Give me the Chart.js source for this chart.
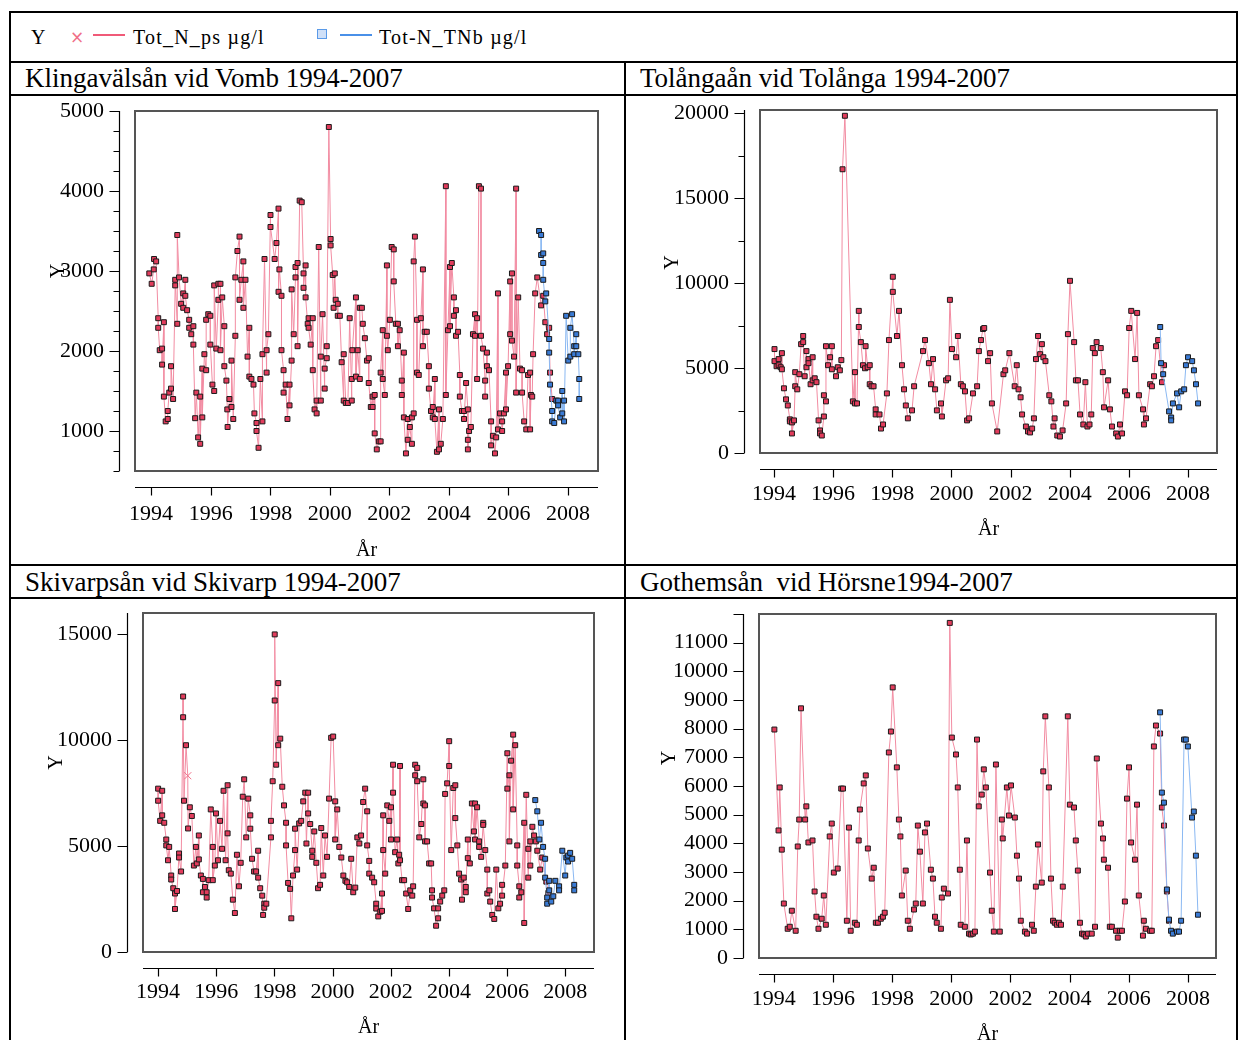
<!DOCTYPE html>
<html>
<head>
<meta charset="utf-8">
<script src="https://cdn.jsdelivr.net/npm/chart.js@4.4.1/dist/chart.umd.min.js"></script>
<style>
	body { margin: 0; background: #fff; }
	#page { position: relative; width: 1238px; height: 1040px; overflow: hidden; font-family: 'Liberation Serif', 'Times New Roman', serif; color: #000; }
	.rule { position: absolute; background: #000; }
	.title { position: absolute; font-size: 27px; line-height: 33px; white-space: pre; }
	.leg { position: absolute; top: 25px; font-size: 20px; line-height: 24px; white-space: pre; letter-spacing: 1.2px; }
	canvas { position: absolute; }
</style>
</head>
<body>
<div id="page">
	<div class="rule" style="left:9px;top:11px;width:1229px;height:2px"></div>
	<div class="rule" style="left:9px;top:61px;width:1229px;height:2px"></div>
	<div class="rule" style="left:9px;top:94px;width:1229px;height:2px"></div>
	<div class="rule" style="left:9px;top:564px;width:1229px;height:2px"></div>
	<div class="rule" style="left:9px;top:597px;width:1229px;height:2px"></div>
	<div class="rule" style="left:9px;top:11px;width:2px;height:1029px"></div>
	<div class="rule" style="left:1236px;top:11px;width:2px;height:1029px"></div>
	<div class="rule" style="left:624px;top:62px;width:2px;height:978px"></div>

	<div class="leg" style="left:31px">Y</div>
	<div class="leg" style="left:70px;color:#f07088;font-family:'DejaVu Sans',sans-serif;font-size:17px">×</div>
	<div class="rule" style="left:93px;top:34px;width:32px;height:2px;background:#f05a78"></div>
	<div class="leg" style="left:133px">Tot_N_ps µg/l</div>
	<div class="rule" style="left:317px;top:29px;width:8px;height:8px;background:#cfe0f8;border:1.5px solid #5a9ae8"></div>
	<div class="rule" style="left:340px;top:34px;width:32px;height:2px;background:#4a90e8"></div>
	<div class="leg" style="left:379px">Tot-N_TNb µg/l</div>

	<div class="title" style="left:25px;top:62px">Klingavälsån vid Vomb 1994-2007</div>
	<div class="title" style="left:640px;top:62px">Tolångaån vid Tolånga 1994-2007</div>
	<div class="title" style="left:25px;top:566px">Skivarpsån vid Skivarp 1994-2007</div>
	<div class="title" style="left:640px;top:566px">Gothemsån  vid Hörsne1994-2007</div>

	<canvas id="vomb" width="612" height="467" style="left:12px;top:97px"></canvas>
	<canvas id="tolanga" width="609" height="467" style="left:627px;top:97px"></canvas>
	<canvas id="skivarp" width="612" height="440" style="left:12px;top:600px"></canvas>
	<canvas id="gothem" width="609" height="440" style="left:627px;top:600px"></canvas>
</div>

<script>
// [year, µg/l] pairs

const vombPs = [
	[1993.94, 2970], [1994.02, 2840], [1994.09, 3020], [1994.10, 3150], [1994.17, 3120], [1994.24, 2410], [1994.24, 2290],
	[1994.29, 2010], [1994.37, 2030], [1994.37, 1830], [1994.43, 2360], [1994.43, 1430], [1994.49, 1120], [1994.56, 1150],
	[1994.56, 1250], [1994.61, 1480], [1994.67, 1530], [1994.67, 1810], [1994.74, 1400], [1994.81, 2820], [1994.81, 2890],
	[1994.88, 2340], [1994.88, 3450], [1994.94, 2920], [1995.01, 2590], [1995.08, 2720], [1995.08, 2540], [1995.15, 2890],
	[1995.15, 2690], [1995.21, 2510], [1995.28, 2390], [1995.28, 2290], [1995.35, 2210], [1995.42, 2310], [1995.42, 2080],
	[1995.48, 1160], [1995.52, 1480], [1995.58, 920], [1995.65, 1430], [1995.65, 840], [1995.72, 1780], [1995.72, 1170],
	[1995.79, 1960], [1995.85, 1760], [1995.85, 2390], [1995.92, 2460], [1995.99, 2440], [1995.99, 2080], [1996.06, 1580],
	[1996.12, 1500], [1996.12, 2820], [1996.19, 2030], [1996.26, 2640], [1996.26, 2840], [1996.33, 2840], [1996.33, 2010],
	[1996.39, 2670], [1996.46, 2310], [1996.46, 1810], [1996.53, 1630], [1996.56, 1270], [1996.57, 1050], [1996.63, 1400],
	[1996.70, 1300], [1996.70, 1880], [1996.76, 1150], [1996.83, 2190], [1996.83, 2920], [1996.90, 3250], [1996.97, 3430],
	[1996.97, 2640], [1997.03, 2890], [1997.10, 3120], [1997.10, 2540], [1997.17, 2890], [1997.24, 1930], [1997.30, 2290],
	[1997.30, 1680], [1997.37, 1650], [1997.44, 1580], [1997.47, 1220], [1997.54, 1100], [1997.54, 1000], [1997.61, 790],
	[1997.67, 1650], [1997.74, 1120], [1997.74, 1960], [1997.81, 3150], [1997.88, 1730], [1997.88, 2010], [1997.94, 2210],
	[1998.01, 3700], [1998.01, 3550], [1998.15, 3150], [1998.21, 3350], [1998.28, 3780], [1998.28, 2740], [1998.31, 3020],
	[1998.38, 2690], [1998.38, 2010], [1998.45, 1760], [1998.45, 1480], [1998.52, 1580], [1998.58, 1150], [1998.65, 1580],
	[1998.65, 1320], [1998.72, 1880], [1998.72, 2770], [1998.79, 2210], [1998.85, 2920], [1998.85, 3050], [1998.92, 3100],
	[1998.92, 2060], [1998.99, 3880], [1999.06, 3860], [1999.12, 2970], [1999.12, 2790], [1999.19, 3070], [1999.19, 2670],
	[1999.26, 2340], [1999.29, 2410], [1999.29, 2290], [1999.36, 2080], [1999.43, 2410], [1999.43, 1760], [1999.49, 1270],
	[1999.56, 1380], [1999.56, 1220], [1999.63, 3300], [1999.70, 1380], [1999.70, 1930], [1999.76, 2460], [1999.83, 1530],
	[1999.83, 1780], [1999.90, 1910], [1999.90, 2060], [1999.97, 4800], [2000.03, 3400], [2000.03, 3320], [2000.10, 2950],
	[2000.13, 2540], [2000.17, 2970], [2000.20, 2640], [2000.27, 2590], [2000.27, 2440], [2000.34, 2440], [2000.40, 1860],
	[2000.47, 1380], [2000.47, 1960], [2000.54, 1350], [2000.61, 1350], [2000.67, 2410], [2000.74, 1380], [2000.74, 1650],
	[2000.76, 2010], [2000.88, 2670], [2000.88, 1680], [2000.94, 2010], [2001.01, 1650], [2001.01, 2540], [2001.08, 2540],
	[2001.11, 2340], [2001.18, 2160], [2001.25, 1880], [2001.31, 1910], [2001.31, 1600], [2001.38, 1300], [2001.44, 1430],
	[2001.44, 1300], [2001.51, 1450], [2001.51, 970], [2001.58, 770], [2001.65, 870], [2001.71, 870], [2001.71, 1730],
	[2001.78, 2260], [2001.78, 1650], [2001.85, 1450], [2001.92, 3070], [2001.92, 2190], [2001.95, 2010], [2002.02, 2390],
	[2002.08, 3300], [2002.15, 3270], [2002.15, 2870], [2002.22, 2340], [2002.29, 2340], [2002.29, 2060], [2002.35, 2260],
	[2002.42, 1630], [2002.42, 1450], [2002.49, 1980], [2002.49, 1170], [2002.56, 720], [2002.62, 1150], [2002.62, 890],
	[2002.69, 1050], [2002.76, 840], [2002.76, 1170], [2002.82, 1220], [2002.82, 3120], [2002.86, 3430], [2002.93, 2390],
	[2002.93, 1730], [2002.99, 1700], [2003.06, 2410], [2003.13, 3020], [2003.13, 2060], [2003.19, 2240], [2003.26, 2240],
	[2003.33, 1810], [2003.33, 1530], [2003.40, 1250], [2003.46, 1300], [2003.46, 1170], [2003.53, 1650], [2003.53, 1150],
	[2003.60, 740], [2003.67, 1270], [2003.67, 770], [2003.73, 840], [2003.80, 1150], [2003.90, 4060], [2003.90, 1450],
	[2003.97, 2260], [2004.04, 3050], [2004.04, 2310], [2004.10, 3100], [2004.17, 2670], [2004.17, 2440], [2004.24, 2510],
	[2004.24, 2190], [2004.31, 2240], [2004.37, 1700], [2004.37, 1430], [2004.44, 1250], [2004.51, 1250], [2004.51, 1150],
	[2004.58, 1600], [2004.64, 1270], [2004.64, 890], [2004.64, 770], [2004.68, 1000], [2004.74, 1050], [2004.81, 2210],
	[2004.88, 2460], [2004.88, 2190], [2004.95, 2410], [2004.95, 1650], [2005.01, 4060], [2005.08, 4030], [2005.08, 2190],
	[2005.15, 2030], [2005.22, 1630], [2005.22, 1430], [2005.28, 1980], [2005.28, 1810], [2005.35, 1760], [2005.42, 1120],
	[2005.42, 820], [2005.48, 940], [2005.55, 720], [2005.59, 920], [2005.65, 2720], [2005.65, 1020], [2005.72, 1220],
	[2005.79, 1120], [2005.79, 1000], [2005.85, 1220], [2005.92, 1730], [2005.92, 1270], [2005.99, 1810], [2006.06, 2870],
	[2006.06, 2210], [2006.12, 2970], [2006.12, 2130], [2006.19, 1930], [2006.26, 4030], [2006.26, 1480], [2006.33, 2670],
	[2006.39, 1780], [2006.46, 1760], [2006.46, 1480], [2006.53, 1120], [2006.60, 1020], [2006.66, 1700], [2006.73, 1730],
	[2006.73, 1020], [2006.76, 1450], [2006.80, 1430], [2006.83, 1960], [2006.90, 2720], [2006.97, 2920], [2007.10, 2570],
	[2007.17, 2690], [2007.24, 2360], [2007.30, 2210], [2007.37, 2290], [2007.40, 1730], [2007.47, 1400]
];
const vombTnb = [
	[2007.03, 3500], [2007.10, 3450], [2007.10, 3200], [2007.17, 3220], [2007.17, 3100], [2007.17, 2890], [2007.24, 2620],
	[2007.27, 2720], [2007.37, 2150], [2007.37, 1980], [2007.40, 1580], [2007.47, 1250], [2007.47, 1120], [2007.54, 1100],
	[2007.61, 1380], [2007.67, 1380], [2007.67, 1320], [2007.74, 1170], [2007.81, 1500], [2007.81, 1220], [2007.87, 1380],
	[2007.87, 1120], [2007.94, 2440], [2008.01, 1880], [2008.08, 1930], [2008.08, 2290], [2008.14, 2460], [2008.21, 2060],
	[2008.21, 1960], [2008.28, 2210], [2008.28, 2060], [2008.35, 1960], [2008.38, 1650], [2008.38, 1400]
];

const tolangaPs = [
	[1994.02, 6120], [1994.02, 5410], [1994.09, 5110], [1994.16, 5530], [1994.16, 5170], [1994.23, 5050], [1994.27, 5880],
	[1994.27, 4930], [1994.34, 3810], [1994.41, 3160], [1994.47, 2800], [1994.54, 1980], [1994.54, 1860], [1994.61, 1800],
	[1994.61, 1150], [1994.68, 1920], [1994.72, 3930], [1994.72, 4760], [1994.79, 3750], [1994.86, 4640], [1994.92, 6410],
	[1994.99, 6890], [1994.99, 6530], [1995.04, 4520], [1995.10, 6000], [1995.10, 5050], [1995.17, 5530], [1995.17, 5290],
	[1995.24, 4050], [1995.31, 5640], [1995.31, 4280], [1995.38, 4400], [1995.44, 4170], [1995.51, 1920], [1995.56, 1330],
	[1995.56, 1150], [1995.62, 1030], [1995.69, 2150], [1995.69, 3400], [1995.76, 3040], [1995.76, 6290], [1995.83, 5170],
	[1995.90, 5640], [1995.96, 6290], [1995.96, 4930], [1996.10, 4520], [1996.16, 5050], [1996.23, 4870], [1996.28, 5470],
	[1996.32, 16710], [1996.40, 19860], [1996.67, 3040], [1996.74, 4760], [1996.74, 2920], [1996.81, 2920], [1996.87, 8370],
	[1996.87, 7420], [1996.94, 6530], [1997.01, 5170], [1997.08, 4990], [1997.10, 6290], [1997.17, 5050], [1997.24, 5170],
	[1997.24, 4050], [1997.30, 3930], [1997.37, 3930], [1997.44, 2570], [1997.44, 2270], [1997.57, 2270], [1997.62, 1440],
	[1997.69, 1680], [1997.82, 3510], [1997.89, 6650], [1998.02, 10380], [1998.02, 9490], [1998.16, 6890], [1998.23, 8370],
	[1998.33, 5170], [1998.40, 3750], [1998.46, 2800], [1998.53, 2040], [1998.67, 2510], [1998.74, 3930], [1999.04, 6000],
	[1999.11, 6650], [1999.24, 5290], [1999.31, 4050], [1999.38, 5530], [1999.45, 3750], [1999.51, 2510], [1999.65, 2920],
	[1999.68, 2150], [1999.82, 4280], [1999.89, 4400], [1999.95, 9020], [2000.02, 6120], [2000.16, 5640], [2000.22, 6890],
	[2000.32, 4050], [2000.39, 3930], [2000.46, 3630], [2000.53, 1920], [2000.60, 2040], [2000.73, 3510], [2000.87, 3930],
	[2000.93, 6000], [2001.00, 6650], [2001.07, 7300], [2001.11, 7360], [2001.24, 5410], [2001.31, 5880], [2001.37, 2920],
	[2001.55, 1270], [2001.76, 4640], [2001.82, 4870], [2001.96, 5880], [2002.14, 3930], [2002.21, 5170], [2002.27, 3750],
	[2002.34, 3280], [2002.39, 2270], [2002.52, 1560], [2002.59, 1270], [2002.66, 1210], [2002.73, 1440], [2002.79, 2040],
	[2002.86, 5530], [2002.93, 6890], [2003.00, 5820], [2003.06, 6410], [2003.11, 5640], [2003.18, 5410], [2003.31, 3400],
	[2003.38, 3040], [2003.45, 1560], [2003.49, 2040], [2003.58, 1030], [2003.67, 970], [2003.76, 1330], [2003.88, 2920],
	[2003.94, 7000], [2004.01, 10140], [2004.15, 6530], [2004.21, 4280], [2004.28, 4280], [2004.35, 2270], [2004.46, 1680],
	[2004.53, 4170], [2004.60, 1560], [2004.67, 1680], [2004.73, 2270], [2004.78, 6180], [2004.85, 5880], [2004.91, 6530],
	[2005.05, 6180], [2005.12, 4760], [2005.16, 2690], [2005.30, 4280], [2005.36, 2570], [2005.43, 1560], [2005.57, 1150],
	[2005.63, 970], [2005.70, 1680], [2005.77, 1150], [2005.87, 3630], [2005.94, 3400], [2006.01, 7360], [2006.08, 8370],
	[2006.21, 5530], [2006.28, 8250], [2006.34, 3400], [2006.48, 2570], [2006.51, 1680], [2006.58, 2040], [2006.72, 4050],
	[2006.78, 3930], [2006.85, 4520], [2006.92, 6290], [2006.99, 6650], [2007.12, 4170], [2007.19, 5170]
];
const tolangaTnb = [
	[2007.06, 7420], [2007.09, 5290], [2007.16, 4640], [2007.36, 2450], [2007.43, 2090], [2007.43, 1920], [2007.49, 2920],
	[2007.63, 3510], [2007.70, 2690], [2007.77, 3630], [2007.87, 3750], [2007.93, 5170], [2008.00, 5640], [2008.14, 5410],
	[2008.20, 4870], [2008.27, 4050], [2008.34, 2920]
];

const skivarpPs = [
	[1994.00, 7710], [1994.00, 7140], [1994.07, 6190], [1994.14, 7610], [1994.14, 6450], [1994.21, 6100], [1994.28, 5310],
	[1994.28, 5030], [1994.34, 4330], [1994.38, 4960], [1994.45, 3610], [1994.45, 3420], [1994.52, 3010], [1994.58, 2760],
	[1994.58, 2030], [1994.65, 2880], [1994.72, 4650], [1994.72, 4460], [1994.79, 3800], [1994.86, 12060], [1994.86, 11080],
	[1994.89, 7140], [1994.96, 9760], [1995.02, 8320], [1995.03, 5830], [1995.09, 6830], [1995.16, 6420], [1995.23, 4080],
	[1995.30, 4960], [1995.33, 4180], [1995.40, 5500], [1995.40, 4370], [1995.47, 3610], [1995.54, 3450], [1995.54, 2820],
	[1995.61, 3070], [1995.67, 2820], [1995.67, 2570], [1995.74, 3390], [1995.81, 6730], [1995.88, 4960], [1995.88, 3390],
	[1995.95, 4080], [1995.99, 6540], [1996.06, 4330], [1996.13, 6190], [1996.20, 4870], [1996.25, 7610], [1996.32, 4330],
	[1996.39, 7870], [1996.39, 5600], [1996.43, 3860], [1996.50, 3700], [1996.57, 2470], [1996.64, 1840], [1996.71, 4590],
	[1996.78, 3100], [1996.84, 4210], [1996.91, 7330], [1996.96, 8150], [1997.03, 5410], [1997.10, 7240], [1997.17, 6450],
	[1997.17, 5820], [1997.23, 4400], [1997.30, 3800], [1997.37, 3800], [1997.44, 4780], [1997.44, 3510], [1997.51, 3010],
	[1997.58, 2660], [1997.61, 1750], [1997.65, 2280], [1997.65, 2090], [1997.72, 2280], [1997.88, 5410], [1997.88, 6190],
	[1997.94, 8060], [1998.01, 11870], [1998.01, 14990], [1998.06, 8840], [1998.13, 12690], [1998.13, 9760], [1998.20, 10070],
	[1998.27, 7800], [1998.33, 6920], [1998.40, 6100], [1998.40, 5030], [1998.47, 3260], [1998.54, 2980], [1998.58, 1590],
	[1998.64, 3610], [1998.71, 4810], [1998.71, 5820], [1998.78, 3890], [1998.85, 6070], [1998.92, 6190], [1998.99, 7110],
	[1999.06, 7520], [1999.10, 5120], [1999.16, 7520], [1999.16, 6540], [1999.23, 6040], [1999.30, 4780], [1999.30, 4490],
	[1999.37, 5690], [1999.44, 4210], [1999.50, 3010], [1999.57, 3170], [1999.61, 5850], [1999.68, 3610], [1999.74, 5500],
	[1999.81, 4490], [1999.88, 7240], [1999.95, 10110], [2000.02, 10170], [2000.09, 7110], [2000.09, 5310], [2000.16, 6730],
	[2000.23, 4960], [2000.30, 4460], [2000.37, 3610], [2000.44, 3360], [2000.50, 3290], [2000.57, 3070], [2000.64, 4400],
	[2000.71, 2820], [2000.78, 3040], [2000.85, 5410], [2000.92, 5120], [2000.98, 5500], [2001.05, 7080], [2001.12, 7710],
	[2001.19, 6640], [2001.19, 5030], [2001.26, 4300], [2001.26, 3700], [2001.36, 3510], [2001.43, 3290], [2001.50, 2280],
	[2001.50, 2050], [2001.57, 1680], [2001.64, 1900], [2001.70, 2760], [2001.70, 1940], [2001.74, 6450], [2001.74, 4810],
	[2001.81, 3700], [2001.88, 6920], [2001.95, 6190], [2002.01, 6830], [2002.01, 5310], [2002.08, 8840], [2002.08, 7520],
	[2002.15, 4710], [2002.22, 5310], [2002.26, 4180], [2002.29, 4590], [2002.32, 8780], [2002.32, 4330], [2002.39, 3390],
	[2002.46, 3390], [2002.53, 2760], [2002.60, 2030], [2002.67, 2910], [2002.74, 2660], [2002.77, 3100], [2002.84, 8840],
	[2002.84, 8340], [2002.91, 8690], [2002.91, 8060], [2002.98, 5410], [2003.05, 6040], [2003.12, 8150], [2003.12, 7010],
	[2003.18, 6920], [2003.18, 5220], [2003.25, 5220], [2003.32, 4180], [2003.39, 4180], [2003.42, 2910], [2003.42, 2570],
	[2003.49, 2060], [2003.56, 1240], [2003.63, 1590], [2003.63, 2060], [2003.70, 2380], [2003.77, 2660], [2003.84, 2910],
	[2003.87, 7460], [2003.94, 7960], [2004.01, 9950], [2004.01, 8780], [2004.08, 4810], [2004.15, 7740], [2004.22, 7870],
	[2004.22, 6320], [2004.29, 5030], [2004.35, 3700], [2004.42, 3420], [2004.45, 2470], [2004.51, 3510], [2004.58, 3070],
	[2004.58, 2820], [2004.65, 5310], [2004.65, 4430], [2004.72, 4180], [2004.79, 7010], [2004.86, 5690], [2004.90, 7010],
	[2004.90, 5310], [2004.97, 6830], [2005.04, 5220], [2005.04, 4960], [2005.11, 4490], [2005.18, 6100], [2005.18, 6000],
	[2005.25, 4810], [2005.32, 3890], [2005.32, 2760], [2005.39, 2910], [2005.42, 2380], [2005.49, 1750], [2005.56, 1560],
	[2005.63, 3890], [2005.70, 2060], [2005.76, 2280], [2005.83, 3170], [2005.83, 2660], [2005.94, 4080], [2006.01, 9380],
	[2006.01, 7710], [2006.08, 8340], [2006.08, 5220], [2006.14, 9030], [2006.21, 10260], [2006.21, 6730], [2006.28, 9760],
	[2006.35, 5030], [2006.35, 4080], [2006.42, 3100], [2006.42, 2570], [2006.49, 2820], [2006.59, 6100], [2006.59, 1370],
	[2006.66, 7420], [2006.73, 3510], [2006.73, 4870], [2006.80, 5220], [2006.80, 4080], [2006.87, 5910], [2006.93, 5500],
	[2006.99, 5220], [2007.04, 4780], [2007.14, 3890], [2007.21, 4460], [2007.35, 3320], [2007.42, 2790]
];
const skivarpTnb = [
	[2006.97, 7170], [2007.04, 6640], [2007.11, 5310], [2007.17, 6100], [2007.24, 4960], [2007.31, 4400], [2007.31, 3510],
	[2007.38, 2570], [2007.38, 2280], [2007.45, 3360], [2007.45, 2910], [2007.52, 2380], [2007.59, 2630], [2007.66, 3360],
	[2007.79, 3100], [2007.79, 2910], [2007.90, 4780], [2008.00, 3610], [2008.04, 4460], [2008.10, 4550], [2008.10, 4270],
	[2008.17, 4680], [2008.24, 4400], [2008.31, 3170], [2008.31, 2910]
];
// the one Tot_N_ps sample drawn with a cross instead of a square
const skivarpCrossYear = 1995.02;

const gothemPs = [
	[1994.02, 7970], [1994.16, 4450], [1994.20, 5950], [1994.27, 3780], [1994.34, 1900], [1994.47, 1020], [1994.54, 1090],
	[1994.61, 1650], [1994.74, 950], [1994.81, 3890], [1994.86, 4830], [1994.92, 8710], [1995.06, 4830], [1995.10, 5290],
	[1995.17, 4030], [1995.31, 4100], [1995.38, 2320], [1995.44, 1440], [1995.51, 1020], [1995.62, 1370], [1995.69, 2180],
	[1995.76, 1160], [1995.89, 4240], [1995.96, 4690], [1996.03, 2980], [1996.16, 3120], [1996.28, 5910], [1996.34, 5910],
	[1996.47, 1300], [1996.54, 4550], [1996.60, 950], [1996.74, 1230], [1996.81, 1160], [1996.87, 4100], [1996.91, 5180],
	[1997.04, 6090], [1997.11, 6370], [1997.18, 3820], [1997.31, 2770], [1997.38, 3150], [1997.45, 1230], [1997.52, 1230],
	[1997.62, 1370], [1997.69, 1440], [1997.75, 1580], [1997.89, 7170], [1997.96, 7900], [1998.02, 9440], [1998.16, 6650],
	[1998.23, 4830], [1998.28, 4240], [1998.33, 2180], [1998.46, 3050], [1998.53, 1300], [1998.60, 1020], [1998.74, 1690],
	[1998.80, 1900], [1998.87, 4620], [1998.94, 3710], [1999.04, 1900], [1999.11, 4380], [1999.18, 4690], [1999.31, 3080],
	[1999.38, 2770], [1999.45, 1440], [1999.51, 1230], [1999.65, 1020], [1999.68, 2110], [1999.75, 2420], [1999.89, 2250],
	[1999.95, 11690], [2000.02, 7690], [2000.16, 7100], [2000.22, 5950], [2000.29, 3080], [2000.32, 1160], [2000.46, 1090],
	[2000.53, 4100], [2000.60, 850], [2000.66, 820], [2000.73, 850], [2000.80, 920], [2000.87, 7620], [2000.93, 5290],
	[2001.03, 5700], [2001.10, 6580], [2001.17, 5950], [2001.31, 2980], [2001.37, 1650], [2001.44, 920], [2001.51, 6750],
	[2001.64, 920], [2001.71, 4830], [2001.74, 4170], [2001.88, 5950], [2001.95, 4970], [2002.02, 6020], [2002.15, 4900],
	[2002.22, 3570], [2002.29, 2770], [2002.35, 1300], [2002.49, 920], [2002.56, 850], [2002.73, 1160], [2002.79, 950],
	[2002.86, 2490], [2002.93, 3960], [2003.06, 2630], [2003.11, 6510], [2003.18, 8430], [2003.30, 5950], [2003.37, 2770],
	[2003.44, 1300], [2003.50, 1230], [2003.57, 1160], [2003.64, 1230], [2003.71, 1160], [2003.77, 2490], [2003.94, 8430],
	[2004.01, 5350], [2004.15, 5250], [2004.21, 4100], [2004.28, 3050], [2004.35, 1230], [2004.42, 850], [2004.48, 820],
	[2004.55, 750], [2004.62, 850], [2004.75, 850], [2004.86, 1090], [2004.92, 6960], [2005.06, 4690], [2005.13, 4170],
	[2005.16, 3430], [2005.30, 3150], [2005.36, 1090], [2005.43, 1090], [2005.57, 950], [2005.63, 710], [2005.70, 950],
	[2005.77, 950], [2005.87, 1970], [2005.94, 5560], [2006.01, 6650], [2006.08, 4030], [2006.21, 3430], [2006.28, 5350],
	[2006.34, 2180], [2006.48, 780], [2006.51, 1300], [2006.58, 1020], [2006.72, 950], [2006.78, 950], [2006.85, 7380],
	[2006.92, 8110], [2007.06, 7830], [2007.12, 5250], [2007.19, 4620], [2007.29, 2320], [2007.36, 1300]
];
const gothemTnb = [
	[2007.06, 8570], [2007.12, 5770], [2007.19, 5420], [2007.29, 2390], [2007.36, 1340], [2007.43, 950], [2007.49, 850],
	[2007.63, 920], [2007.70, 920], [2007.77, 1300], [2007.87, 7620], [2007.93, 7620], [2008.00, 7380], [2008.14, 4900],
	[2008.20, 5110], [2008.27, 3570], [2008.34, 1510]
];

const seriesNames = ['Tot_N_ps µg/l', 'Tot-N_TNb µg/l'];
const yearTicks = [1994, 1996, 1998, 2000, 2002, 2004, 2006, 2008];
const xTitle = 'År';
const yTitle = 'Y';

// offset axes, frame and axis titles (SAS-style)
const panelAxes = {
	id: 'panelAxes',
	afterDraw(chart, args, o) {
		const { ctx, chartArea: a } = chart;
		const xs = chart.scales.x;
		const ys = chart.scales.y;
		ctx.save();
		ctx.strokeStyle = '#555';
		ctx.lineWidth = 2;
		ctx.strokeRect(a.left, a.top, a.right - a.left, a.bottom - a.top);

		ctx.strokeStyle = '#000';
		ctx.lineWidth = 1.2;
		ctx.beginPath();
		const ax = Math.round(a.left - o.gap) + 0.5;
		ctx.moveTo(ax, a.top);
		ctx.lineTo(ax, a.bottom);
		ys.ticks.forEach(t => {
			const py = Math.round(ys.getPixelForValue(t.value)) + 0.5;
			const len = t.value % o.majorEvery === 0 ? 10 : 6;
			ctx.moveTo(ax, py);
			ctx.lineTo(ax - len, py);
		});
		const ay = Math.round(a.bottom + o.gap) + 0.5;
		ctx.moveTo(a.left, ay);
		ctx.lineTo(a.right, ay);
		xs.ticks.forEach(t => {
			const px = Math.round(xs.getPixelForValue(t.value)) + 0.5;
			ctx.moveTo(px, ay);
			ctx.lineTo(px, ay + 8);
		});
		ctx.stroke();

		ctx.fillStyle = '#000';
		ctx.font = '20px "Liberation Serif", "Times New Roman", serif';
		ctx.textAlign = 'center';
		ctx.textBaseline = 'middle';
		ctx.fillText(xTitle, (a.left + a.right) / 2, a.bottom + o.xTitleDist);
		ctx.translate(a.left - o.yTitleDist, (a.top + a.bottom) / 2 - o.yTitleRaise);
		ctx.rotate(-Math.PI / 2);
		ctx.fillText(yTitle, 0, 0);
		ctx.restore();
	}
};

const tickFont = { family: "'Liberation Serif', 'Times New Roman', serif", size: 22 };

function psSet(points, crossYear) {
	const isCross = c => crossYear !== undefined && c.raw && c.raw.x === crossYear;
	return {
		label: seriesNames[0],
		data: points.map(p => ({ x: p[0], y: p[1] })),
		borderColor: '#f28ca2',
		borderWidth: 1,
		tension: 0,
		pointStyle: c => isCross(c) ? 'crossRot' : 'rect',
		pointRadius: c => isCross(c) ? 5 : 3.5,
		pointBackgroundColor: '#e23c5c',
		pointBorderColor: c => isCross(c) ? '#f07088' : '#1a1a1a',
		pointBorderWidth: 1,
		order: 1
	};
}

function tnbSet(points) {
	return {
		label: seriesNames[1],
		data: points.map(p => ({ x: p[0], y: p[1] })),
		borderColor: '#8ab8f2',
		borderWidth: 1,
		tension: 0,
		pointStyle: 'rect',
		pointRadius: 3.5,
		pointBackgroundColor: '#3a7bd5',
		pointBorderColor: '#1a1a1a',
		pointBorderWidth: 1,
		order: 0
	};
}

function panel(id, ps, tnb, p) {
	new Chart(document.getElementById(id), {
		type: 'line',
		data: { datasets: [psSet(ps, p.crossYear), tnbSet(tnb)] },
		plugins: [panelAxes],
		options: {
			responsive: false,
			animation: false,
			devicePixelRatio: 1,
			layout: { padding: { top: p.top, right: p.right, left: 0, bottom: 0 } },
			plugins: {
				legend: { display: false },
				tooltip: { enabled: false },
				panelAxes: {
					gap: 16,
					majorEvery: p.labelEvery,
					xTitleDist: p.xTitleDist,
					yTitleDist: p.yTitleDist,
					yTitleRaise: p.yTitleRaise
				}
			},
			scales: {
				x: {
					type: 'linear',
					min: p.xMin,
					max: p.xMax,
					afterBuildTicks: s => { s.ticks = yearTicks.map(v => ({ value: v })); },
					afterFit: s => { s.height = p.bottom; s.paddingLeft = 0; s.paddingRight = 0; },
					grid: { display: false, drawTicks: false },
					border: { display: false },
					ticks: {
						autoSkip: false,
						maxRotation: 0,
						padding: p.xPad,
						color: '#000',
						font: tickFont,
						callback: v => String(Math.round(v))
					}
				},
				y: {
					type: 'linear',
					min: p.yMin,
					max: p.yMax,
					afterBuildTicks: s => {
						const t = [];
						for (let v = p.yTickFrom; v <= p.yTickTo; v += p.yStep) t.push({ value: v });
						s.ticks = t;
					},
					afterFit: s => { s.width = p.left; s.paddingTop = 0; s.paddingBottom = 0; },
					grid: { display: false, drawTicks: false },
					border: { display: false },
					ticks: {
						autoSkip: false,
						padding: 31,
						color: '#000',
						font: tickFont,
						callback: v => (v % p.labelEvery === 0 && v <= p.labelTop) ? String(v) : ''
					}
				}
			}
		}
	});
}

panel('vomb', vombPs, vombTnb, {
	left: 123, top: 14, right: 26, bottom: 93,
	xMin: 1993.46, xMax: 2009.01, yMin: 500, yMax: 5000,
	yTickFrom: 500, yTickTo: 5000, yStep: 250, labelEvery: 1000, labelTop: 5000,
	xPad: 30, xTitleDist: 80, yTitleDist: 76, yTitleRaise: 20
});
panel('tolanga', tolangaPs, tolangaTnb, {
	left: 133, top: 13, right: 19, bottom: 111,
	xMin: 1993.53, xMax: 2008.98, yMin: 0, yMax: 20200,
	yTickFrom: 0, yTickTo: 20000, yStep: 2500, labelEvery: 5000, labelTop: 20000,
	xPad: 28, xTitleDist: 77, yTitleDist: 87, yTitleRaise: 19
});
panel('skivarp', skivarpPs, skivarpTnb, {
	left: 131, top: 13, right: 30, bottom: 88, crossYear: skivarpCrossYear,
	xMin: 1993.48, xMax: 2008.99, yMin: 0, yMax: 16000,
	yTickFrom: 0, yTickTo: 15000, yStep: 5000, labelEvery: 5000, labelTop: 15000,
	xPad: 27, xTitleDist: 76, yTitleDist: 86, yTitleRaise: 20
});
panel('gothem', gothemPs, gothemTnb, {
	left: 132, top: 14, right: 20, bottom: 82,
	xMin: 1993.50, xMax: 2008.95, yMin: 0, yMax: 12000,
	yTickFrom: 0, yTickTo: 12000, yStep: 1000, labelEvery: 1000, labelTop: 11000,
	xPad: 28, xTitleDist: 77, yTitleDist: 89, yTitleRaise: 28
});
</script>
</body>
</html>
